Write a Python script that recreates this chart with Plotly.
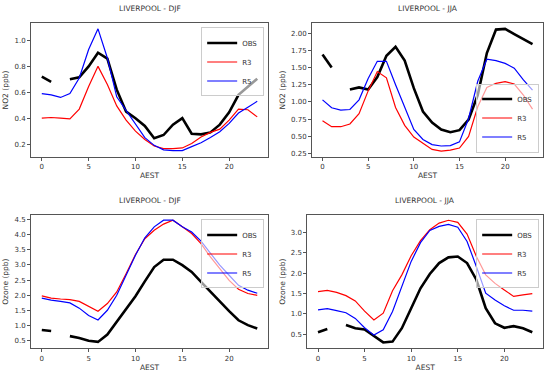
import plotly.graph_objects as go

hours = list(range(24))
x_ticks = [0, 5, 10, 15, 20]

# NO2 DJF
no2_djf_obs = [0.72, 0.68, None, 0.70, 0.715, 0.80, 0.905, 0.86, 0.62, 0.45, 0.40, 0.34,
               0.245, 0.27, 0.35, 0.40, 0.28, 0.275, 0.29, 0.35, 0.445, 0.58, 0.645, 0.705]
no2_djf_r3 = [0.40, 0.405, 0.40, 0.395, 0.47, 0.645, 0.80, 0.66, 0.495, 0.385, 0.30, 0.235,
              0.185, 0.165, 0.165, 0.17, 0.205, 0.255, 0.29, 0.315, 0.385, 0.47, 0.465, 0.41]
no2_djf_r5 = [0.59, 0.58, 0.56, 0.59, 0.71, 0.93, 1.09, 0.865, 0.565, 0.46, 0.35, 0.25,
              0.19, 0.155, 0.15, 0.15, 0.18, 0.21, 0.25, 0.295, 0.36, 0.44, 0.485, 0.53]

# NO2 JJA
no2_jja_obs = [1.69, 1.50, None, 1.18, 1.21, 1.18, 1.36, 1.67, 1.80, 1.60, 1.20, 0.86,
               0.70, 0.60, 0.56, 0.59, 0.745, 1.10, 1.71, 2.05, 2.06, 1.985, 1.91, 1.84]
no2_jja_r3 = [0.725, 0.64, 0.64, 0.68, 0.83, 1.16, 1.44, 1.35, 0.92, 0.66, 0.49, 0.395,
              0.31, 0.285, 0.30, 0.33, 0.50, 0.93, 1.21, 1.27, 1.295, 1.26, 1.10, 0.895]
no2_jja_r5 = [1.03, 0.915, 0.88, 0.89, 1.03, 1.34, 1.59, 1.59, 1.25, 0.92, 0.60, 0.455,
              0.38, 0.36, 0.365, 0.42, 0.76, 1.30, 1.62, 1.60, 1.56, 1.49, 1.32, 1.17]

# Ozone DJF
o3_djf_obs = [0.86, 0.83, None, 0.66, 0.60, 0.51, 0.47, 0.71, 1.12, 1.53, 1.97, 2.46,
              2.93, 3.17, 3.17, 2.99, 2.77, 2.44, 2.11, 1.80, 1.48, 1.18, 1.02, 0.91]
o3_djf_r3 = [1.98, 1.91, 1.88, 1.86, 1.80, 1.64, 1.48, 1.73, 2.11, 2.71, 3.34, 3.86,
             4.14, 4.34, 4.47, 4.25, 4.03, 3.70, 3.26, 2.88, 2.49, 2.20, 2.06, 2.00]
o3_djf_r5 = [1.91, 1.84, 1.80, 1.75, 1.58, 1.34, 1.19, 1.51, 2.00, 2.66, 3.32, 3.89,
             4.25, 4.47, 4.47, 4.25, 4.08, 3.78, 3.37, 2.99, 2.66, 2.33, 2.17, 2.07]

# Ozone JJA
o3_jja_obs = [0.55, 0.63, None, 0.73, 0.65, 0.62, 0.47, 0.30, 0.32, 0.65, 1.14, 1.63,
              1.98, 2.25, 2.39, 2.41, 2.25, 1.84, 1.14, 0.77, 0.66, 0.70, 0.65, 0.55]
o3_jja_r3 = [1.55, 1.58, 1.53, 1.45, 1.32, 1.07, 0.85, 1.02, 1.57, 1.96, 2.43, 2.80,
             3.07, 3.23, 3.30, 3.25, 2.96, 2.41, 1.96, 1.75, 1.59, 1.43, 1.47, 1.50]
o3_jja_r5 = [1.10, 1.13, 1.08, 1.03, 0.89, 0.66, 0.48, 0.61, 1.06, 1.67, 2.29, 2.75,
             3.05, 3.15, 3.20, 3.13, 2.78, 2.16, 1.51, 1.34, 1.20, 1.09, 1.09, 1.07]

panels = [
    dict(title="LIVERPOOL - DJF", ylabel="NO2 (ppb)", series=(no2_djf_obs, no2_djf_r3, no2_djf_r5),
         yticks=[0.2, 0.4, 0.6, 0.8, 1.0], yfmt=".1f", yrange=[0.10, 1.135],
         xdom=[0.0564, 0.4873], ydom=[0.5813, 0.9387], leg="top"),
    dict(title="LIVERPOOL - JJA", ylabel="NO2 (ppb)", series=(no2_jja_obs, no2_jja_r3, no2_jja_r5),
         yticks=[0.25, 0.5, 0.75, 1.0, 1.25, 1.5, 1.75, 2.0], yfmt=".2f", yrange=[0.20, 2.146],
         xdom=[0.5673, 0.9873], ydom=[0.5813, 0.9387], leg="bottom"),
    dict(title="LIVERPOOL - DJF", ylabel="Ozone (ppb)", series=(o3_djf_obs, o3_djf_r3, o3_djf_r5),
         yticks=[0.5, 1.0, 1.5, 2.0, 2.5, 3.0, 3.5, 4.0, 4.5], yfmt=".1f", yrange=[0.26, 4.64],
         xdom=[0.0564, 0.4873], ydom=[0.0712, 0.4267], leg="top"),
    dict(title="LIVERPOOL - JJA", ylabel="Ozone (ppb)", series=(o3_jja_obs, o3_jja_r3, o3_jja_r5),
         yticks=[0.5, 1.0, 1.5, 2.0, 2.5, 3.0], yfmt=".1f", yrange=[0.156, 3.43],
         xdom=[0.5587, 0.9873], ydom=[0.0712, 0.4267], leg="top"),
]

names = ["OBS", "R3", "R5"]
colors = ["#000000", "#ff0000", "#0000ff"]
widths = [2.6, 1.2, 1.2]
font_family = "DejaVu Sans, Arial, sans-serif"
text_color = "#333333"

fig = go.Figure()
layout = dict(
    width=550, height=375, margin=dict(l=0, r=0, t=0, b=0),
    paper_bgcolor="white", plot_bgcolor="white", showlegend=True,
    font=dict(family=font_family, size=7, color=text_color),
    annotations=[],
)

for i, p in enumerate(panels):
    k = "" if i == 0 else str(i + 1)
    legname = "legend" + k
    for s, name, c, w in zip(p["series"], names, colors, widths):
        fig.add_trace(go.Scatter(
            x=hours, y=s, mode="lines", name=name,
            line=dict(color=c, width=w), connectgaps=False,
            xaxis="x" + k, yaxis="y" + k, legend=legname,
        ))
    axstyle = dict(showline=True, linecolor="#555555", linewidth=1, mirror=True,
                   ticks="outside", ticklen=3, tickcolor="#555555", showgrid=False,
                   zeroline=False, tickfont=dict(size=7, color=text_color))
    layout["xaxis" + k] = dict(domain=p["xdom"], anchor="y" + k, range=[-1.15, 24.15],
                               tickvals=x_ticks,
                               title=dict(text="AEST", font=dict(size=7.5), standoff=0),
                               **axstyle)
    layout["yaxis" + k] = dict(domain=p["ydom"], anchor="x" + k, range=p["yrange"],
                               tickvals=p["yticks"], tickformat=p["yfmt"],
                               title=dict(text=p["ylabel"], font=dict(size=7.5), standoff=4),
                               **axstyle)
    xr = p["xdom"][1] - 0.007
    if p["leg"] == "top":
        ly, ya = p["ydom"][1] - 0.012, "top"
    else:
        ly, ya = p["ydom"][0] + 0.012, "bottom"
    layout[legname] = dict(x=xr, y=ly, xanchor="right", yanchor=ya,
                           bgcolor="rgba(255,255,255,0.6)", bordercolor="#cccccc",
                           borderwidth=1, font=dict(size=7, color=text_color),
                           itemwidth=30, tracegroupgap=0)
    layout["annotations"].append(dict(
        text=p["title"], x=(p["xdom"][0] + p["xdom"][1]) / 2, xref="paper",
        y=p["ydom"][1] + 0.0387, yref="paper", xanchor="center", yanchor="middle",
        showarrow=False, font=dict(size=7.5, color=text_color)))

fig.update_layout(**layout)
fig.write_html("out.html", config={"displayModeBar": False},
               post_script="document.body.style.margin='0';")
